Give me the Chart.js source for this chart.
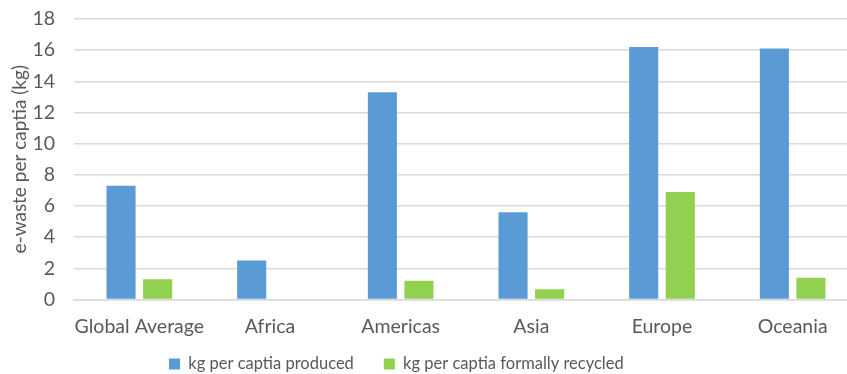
<!DOCTYPE html>
<html>
<head>
<meta charset="utf-8">
<script src="https://cdn.jsdelivr.net/npm/chart.js@4/dist/chart.umd.min.js"></script>
<style>
html,body{margin:0;padding:0;background:#fff;overflow:hidden;}
#wrap{width:847px;height:374px;position:relative;overflow:hidden;}
#c{position:absolute;left:0;top:0;}
</style>
</head>
<body>
<div id="wrap"><canvas id="c" width="860" height="374"></canvas></div>
<script>
const categories = ["Global Average", "Africa", "Americas", "Asia", "Europe", "Oceania"];
const produced = [7.3, 2.5, 13.3, 5.6, 16.2, 16.1];
const recycled = [1.3, 0, 1.2, 0.65, 6.9, 1.4];
const seriesNames = ["kg per captia produced", "kg per captia formally recycled"];
const yTitle = "e-waste per captia (kg)";

const FONT = "Lato, 'Open Sans', sans-serif";
const GREY = "#595959";
const FS = 19.5;
const LEG_FS = 16.5;
const LEG_PAD = 30;

// legend: fixed height in layout; first box starts at x=169, text centred at y=364
const legendPlace = {
  id: "legendPlace",
  beforeLayout(chart) {
    const lg = chart.legend;
    if (lg && !lg._fitWrapped) {
      const orig = lg.fit.bind(lg);
      lg.fit = function () { orig(); this.height = 35.1; };
      lg._fitWrapped = true;
    }
  },
  beforeDraw(chart) {
    const lg = chart.legend;
    if (!lg || !lg.lineWidths) return;
    const p = lg.options.labels.padding;
    const start = (lg.left + p + lg.right - lg.lineWidths[0]) / 2;
    const dx = 169 - start;
    lg.left += dx; lg.right += dx;
    lg.top = 364 - p - LEG_FS / 2;
  }
};

new Chart(document.getElementById("c"), {
  type: "bar",
  data: {
    labels: categories,
    datasets: [
      { label: seriesNames[0], data: produced, backgroundColor: "#5B9BD5", borderWidth: 0,
        categoryPercentage: 0.56, barPercentage: 0.795 },
      { label: seriesNames[1], data: recycled, backgroundColor: "#92D050", borderWidth: 0,
        categoryPercentage: 0.56, barPercentage: 0.795 }
    ]
  },
  plugins: [legendPlace],
  options: {
    responsive: false,
    animation: false,
    layout: { padding: { top: 0, right: 2, left: 0, bottom: 0 } },
    plugins: {
      legend: {
        position: "bottom",
        labels: { color: GREY, font: { family: FONT, size: LEG_FS }, boxWidth: 11, boxHeight: 11, padding: LEG_PAD }
      },
      tooltip: { enabled: false }
    },
    scales: {
      x: {
        grid: { display: false, drawTicks: false },
        border: { color: "#D9D9D9", width: 1.5 },
        ticks: { color: GREY, font: { family: FONT, size: FS }, padding: 16, maxRotation: 0, autoSkip: false },
        afterFit: (s) => { s.paddingLeft = 0; s.paddingRight = 0; s.height = 39.4; }
      },
      y: {
        min: 0, max: 18,
        ticks: { stepSize: 2, color: GREY, font: { family: FONT, size: FS }, padding: 19 },
        grid: { color: "#D9D9D9", lineWidth: 1.5, drawTicks: false },
        border: { display: false },
        title: { display: true, text: yTitle, color: GREY, font: { family: FONT, size: 19 }, padding: { top: 8, bottom: 0 } },
        afterFit: (s) => { s.width = 74; s.paddingTop = 19; s.paddingBottom = 0; }
      }
    }
  }
});
</script>
</body>
</html>
